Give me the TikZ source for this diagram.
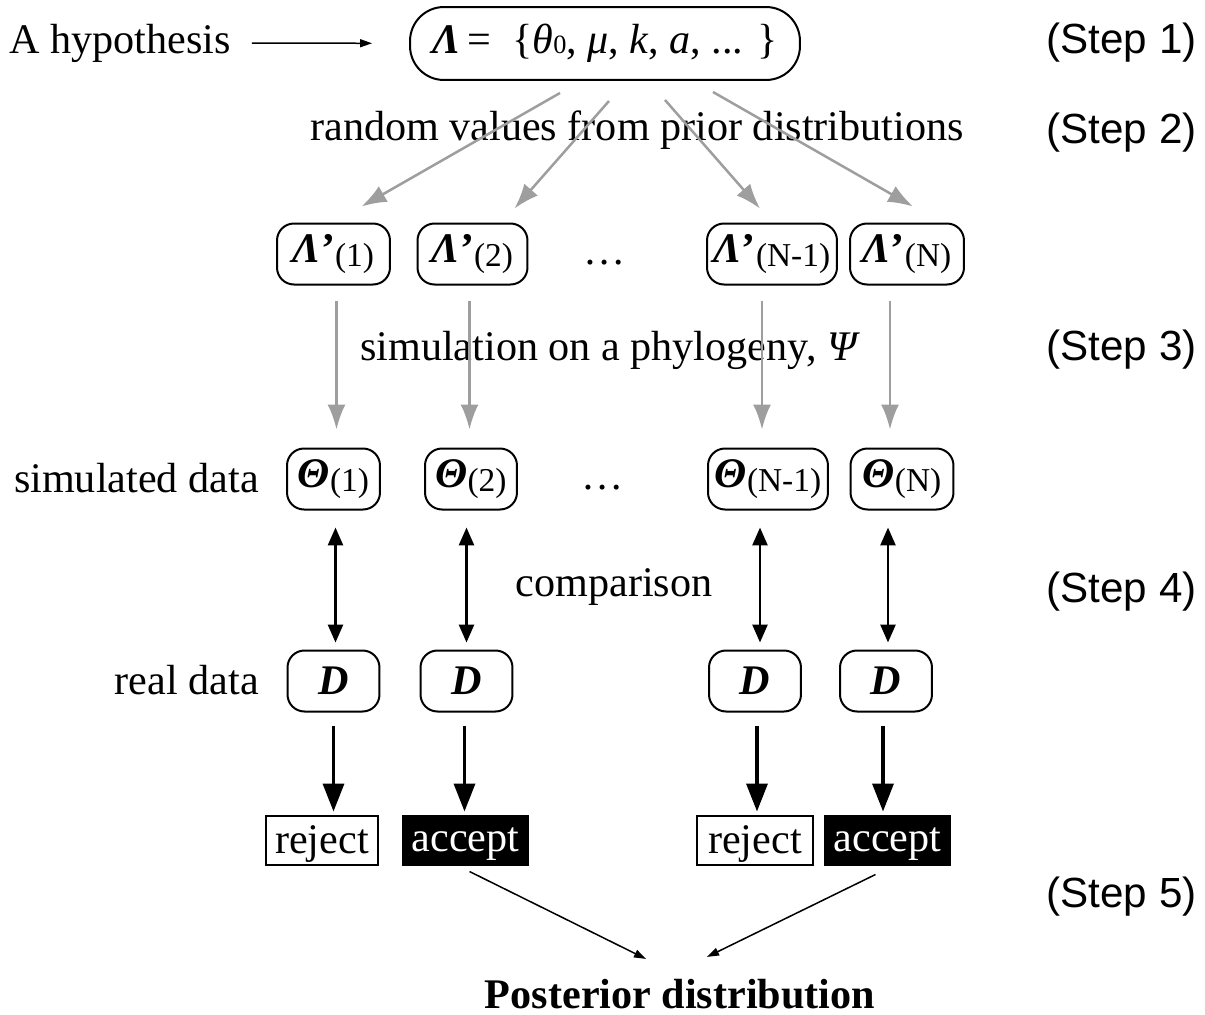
\documentclass[tikz,border=0pt]{standalone}
\usepackage{fontspec}
\setmainfont{Liberation Serif}
\newfontfamily\stepfont{Liberation Sans}
\usetikzlibrary{arrows.meta,calc}

\definecolor{cinza}{gray}{0.62}

\newcommand{\idx}[1]{\raisebox{-0.07cm}{\fontsize{19}{19}\selectfont #1}}
\newcommand{\blam}{\textbf{\textit{Λ}}}
\newcommand{\bteta}{\textbf{\textit{Θ}}}

\tikzset{
	caixa/.style={shape=rectangle, rounded corners=0.34cm, draw, line width=0.04cm, minimum height=1.22cm, inner xsep=2pt},
	decisao/.style={shape=rectangle, draw, line width=0.04cm, minimum height=0.98cm, inner xsep=2pt, text depth=0pt},
	aceita/.style={decisao, fill=black, text=white},
	passo/.style={anchor=east, inner sep=0pt, font=\stepfont\fontsize{24}{29}\selectfont},
	setafina/.style={arrows={-Triangle[length=0.24cm,width=0.16cm]}, line width=0.03cm},
	setacinza/.style={arrows={-Latex[length=0.5cm,width=0.36cm]}, line width=0.05cm, color=cinza},
	setadupla/.style={arrows={Triangle[length=0.36cm,width=0.3cm]-Triangle[length=0.36cm,width=0.3cm]}, line width=0.055cm},
	setagrossa/.style={arrows={-Triangle[length=0.56cm,width=0.42cm]}, line width=0.07cm}
}

\begin{document}
\begin{tikzpicture}[x=0.02cm, y=-0.02cm, font=\fontsize{24}{29}\selectfont]
	\useasboundingbox (0,0) rectangle (1205,1015);

	\node (hip) at (120,43){A hypothesis};

	\node (h)[shape=rectangle, rounded corners=0.68cm, draw, line width=0.04cm, minimum width=7.8cm, minimum height=1.46cm]
	at (605,43.5){
		\blam\,=~~\{\textit{θ}{\fontsize{15}{15}\selectfont 0}, \textit{μ}, \textit{k}, \textit{a}, ... \}
	};

	\node (s1)[passo] at (1197,43){(Step 1)};
	\node (s2)[passo] at (1197,133){(Step 2)};
	\node (s3)[passo] at (1197,350){(Step 3)};
	\node (s4)[passo] at (1197,592){(Step 4)};
	\node (s5)[passo] at (1197,897){(Step 5)};

	\node (aleat) at (637,130){random values from prior distributions};
	\node (simul) at (610,350){simulation on a phylogeny, \textit{Ψ}};
	\node (comp) at (614,587){comparison};

	% parametros sorteados
	\node (l1)[caixa, minimum width=2.26cm] at (333.5,254){\blam\textbf{’}\idx{(1)}};
	\node (l2)[caixa, minimum width=2.2cm] at (472.5,254){\blam\textbf{’}\idx{(2)}};
	\node (l3)[caixa, minimum width=2.6cm] at (772,254){\blam\textbf{’}\idx{(N-1)}};
	\node (l4)[caixa, minimum width=2.28cm] at (907,254){\blam\textbf{’}\idx{(N)}};
	\node (p1) at (605,263){…};

	% dados simulados
	\node (simtxt)[anchor=east] at (265,478){simulated data};
	\node (t1)[caixa, minimum width=1.86cm] at (333.5,479){\bteta\idx{(1)}};
	\node (t2)[caixa, minimum width=1.84cm] at (471,479){\bteta\idx{(2)}};
	\node (t3)[caixa, minimum width=2.4cm] at (768,479){\bteta\idx{(N-1)}};
	\node (t4)[caixa, minimum width=2.06cm] at (902,479){\bteta\idx{(N)}};
	\node (p2) at (603,488){…};

	% dados reais
	\node (realtxt)[anchor=east] at (265,680){real data};
	\node (d1)[caixa, minimum width=1.84cm] at (333.5,681){\textbf{\textit{D}}};
	\node (d2)[caixa, minimum width=1.84cm] at (466.5,681){\textbf{\textit{D}}};
	\node (d3)[caixa, minimum width=1.84cm] at (755,681){\textbf{\textit{D}}};
	\node (d4)[caixa, minimum width=1.84cm] at (886,681){\textbf{\textit{D}}};

	\node (r1)[decisao, minimum width=2.26cm] at (322,840){reject};
	\node (a1)[aceita, minimum width=2.5cm] at (465.5,840){accept};
	\node (r2)[decisao, minimum width=2.32cm] at (755,840){reject};
	\node (a2)[aceita, minimum width=2.5cm] at (887.5,840){accept};

	\node (post) at (680,994){\textbf{Posterior distribution}};

	\draw[setafina, shorten <=0.3cm, shorten >=0.74cm] (hip) -- (h);

	\draw[setacinza] ($(h.south)+(-45,12)$) -- ($(l1.north)+(28,-16)$);
	\draw[setacinza] ($(h.south)+(4,20)$) -- ($(l2.north)+(42,-14)$);
	\draw[setacinza] ($(h.south)+(60,19)$) -- ($(l3.north)+(-12,-14)$);
	\draw[setacinza] ($(h.south)+(108,11)$) -- ($(l4.north)+(6,-16)$);

	\draw[setacinza] ($(l1.south)+(3,15)$) -- ($(l1.south |- t1.north)+(3,-18)$);
	\draw[setacinza] ($(l2.south)+(-3,15)$) -- ($(l2.south |- t2.north)+(-3,-18)$);
	\draw[setacinza] ($(l3.south)+(-10,15)$) -- ($(l3.south |- t3.north)+(-10,-18)$);
	\draw[setacinza] ($(l4.south)+(-17,15)$) -- ($(l4.south |- t4.north)+(-17,-18)$);

	\draw[setadupla] ($(d1.north |- t1.south)+(2,17)$) -- ($(d1.north)+(2,-7)$);
	\draw[setadupla] ($(d2.north |- t2.south)+(0,17)$) -- ($(d2.north)+(0,-7)$);
	\draw[setadupla] ($(d3.north |- t3.south)+(5,17)$) -- ($(d3.north)+(5,-7)$);
	\draw[setadupla] ($(d4.north |- t4.south)+(2,17)$) -- ($(d4.north)+(2,-7)$);

	\draw[setagrossa] ($(d1.south)+(0,13)$) -- ($(d1.south |- r1.north)+(0,-3)$);
	\draw[setagrossa] ($(d2.south)+(-2,13)$) -- ($(d2.south |- a1.north)+(-2,-3)$);
	\draw[setagrossa] ($(d3.south)+(2,13)$) -- ($(d3.south |- r2.north)+(2,-3)$);
	\draw[setagrossa] ($(d4.south)+(-3,13)$) -- ($(d4.south |- a2.north)+(-3,-3)$);

	\draw[setafina] ($(a1.south)+(4,6)$) -- ($(post.north)+(-34,-14)$);
	\draw[setafina] ($(a2.south)+(-12,9)$) -- ($(post.north)+(27,-16)$);
\end{tikzpicture}
\end{document}
